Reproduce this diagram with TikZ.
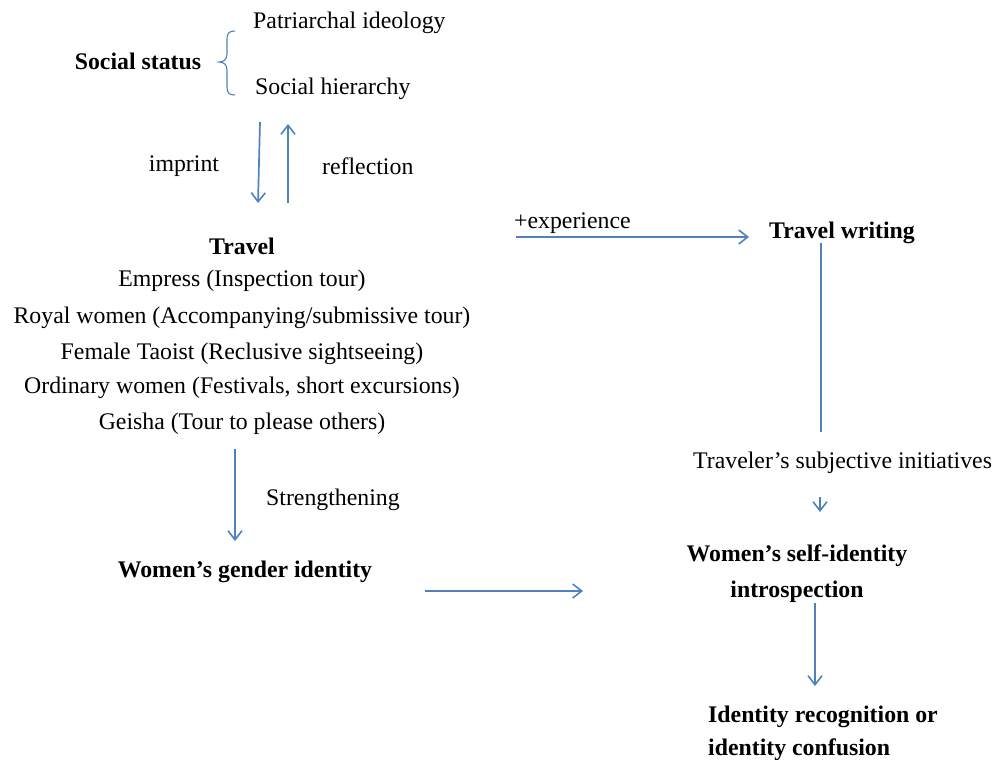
\documentclass[tikz,border=0pt]{standalone}
\usepackage{fontspec}
\setmainfont{Liberation Serif}
\usetikzlibrary{arrows.meta}
\definecolor{arrowblue}{HTML}{4F81BD}
\tikzset{
  x=1pt, y=-1pt,
  txt/.style={inner sep=0pt, yshift=-3pt, font=\fontsize{23.8}{28}\selectfont},
  btxt/.style={txt, font=\fontsize{23.8}{28}\selectfont\bfseries},
  conn/.style={draw=arrowblue, line width=1.7pt, -{Straight Barb[length=9pt,width=14pt,line width=1.6pt]}},
  plain/.style={draw=arrowblue, line width=1.7pt},
  bracestyle/.style={draw=arrowblue, line width=1.1pt}
}
\begin{document}
\begin{tikzpicture}
\useasboundingbox (0,0) rectangle (996,760);
% texts
\node[btxt] (social) at (138,58) {Social status};
\node[txt, anchor=west] (patri) at (253,20) {Patriarchal ideology};
\node[txt, anchor=west] (hier) at (255,86) {Social hierarchy};
\node[txt] (imprint) at (184,163) {imprint};
\node[txt, anchor=west] (refl) at (322,163) {reflection};
\node[btxt] (travel) at (242,243) {Travel};
\node[txt] (l1) at (242,278) {Empress (Inspection tour)};
\node[txt] (l2) at (242,315) {Royal women (Accompanying/submissive tour)};
\node[txt] (l3) at (242,351) {Female Taoist (Reclusive sightseeing)};
\node[txt] (l4) at (242,385) {Ordinary women (Festivals, short excursions)};
\node[txt] (l5) at (242,421) {Geisha (Tour to please others)};
\node[txt, anchor=west] (exper) at (514,220) {+experience};
\node[btxt, anchor=west] (tw) at (769,230) {Travel writing};
\node[txt, anchor=west] (subj) at (693,460) {Traveler’s subjective initiatives};
\node[btxt] (selfid1) at (797,553) {Women’s self-identity};
\node[btxt] (selfid2) at (797,589) {introspection};
\node[txt, anchor=west] (streng) at (266,497) {Strengthening};
\node[btxt] (gender) at (245,569) {Women’s gender identity};
\node[btxt, anchor=west] (res1) at (708,714) {Identity recognition or};
\node[btxt, anchor=west] (res2) at (708,747) {identity confusion};
% brace
\draw[bracestyle] (235,31) .. controls (229,31) and (227,33) .. (227,40) -- (227,54)
  .. controls (227,59) and (224,62) .. (219,62)
  .. controls (224,62) and (227,65) .. (227,70) -- (227,87)
  .. controls (227,93) and (229,95) .. (235,95);
% connector end points
\coordinate (a1s) at (260,122); \coordinate (a1e) at (258,203);
\coordinate (a2s) at (288,203); \coordinate (a2e) at (288,124);
\coordinate (a3s) at (516,237); \coordinate (a3e) at (749,237);
\coordinate (a4s) at (821,243); \coordinate (a4e) at (821,432);
\coordinate (a5s) at (820,497); \coordinate (a5e) at (820,512);
\coordinate (a6s) at (815,603); \coordinate (a6e) at (815,686);
\coordinate (a7s) at (235,449); \coordinate (a7e) at (235,541);
\coordinate (a8s) at (425,591); \coordinate (a8e) at (583,591);
% connectors
\draw[conn] (a1s) -- (a1e);
\draw[conn] (a2s) -- (a2e);
\draw[conn] (a3s) -- (a3e);
\draw[plain] (a4s) -- (a4e);
\draw[conn] (a5s) -- (a5e);
\draw[conn] (a6s) -- (a6e);
\draw[conn] (a7s) -- (a7e);
\draw[conn] (a8s) -- (a8e);
\end{tikzpicture}
\end{document}
